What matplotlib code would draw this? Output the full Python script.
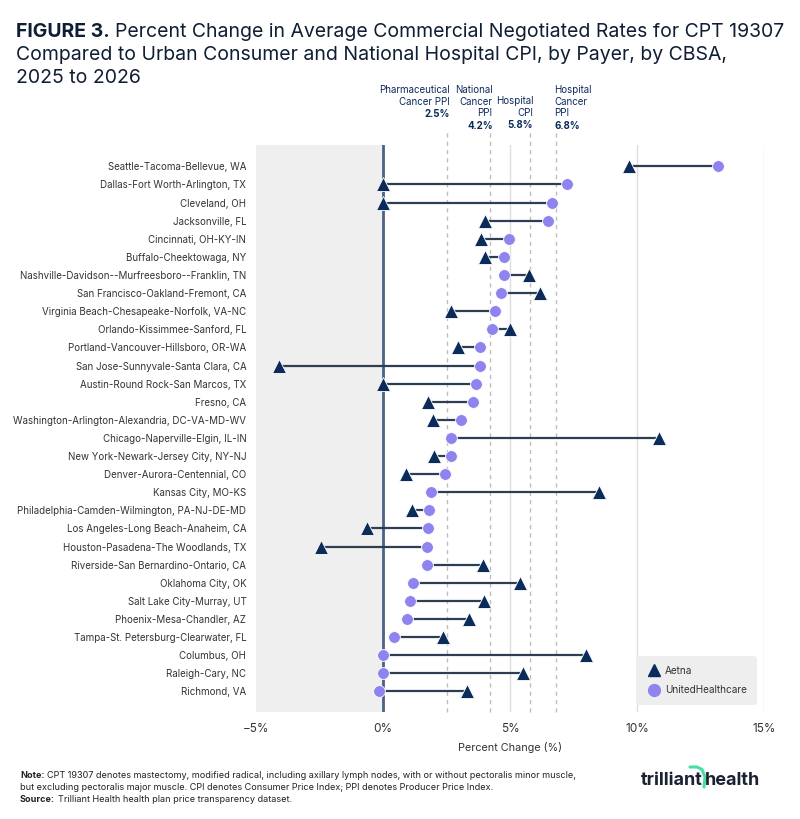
import numpy as np
import matplotlib
matplotlib.use("Agg")
import matplotlib.pyplot as plt
from matplotlib.lines import Line2D
import matplotlib.transforms as mtransforms

plt.rcParams['font.family'] = ['Inter', 'DejaVu Sans']

cbsa = [
    "Seattle-Tacoma-Bellevue, WA", "Dallas-Fort Worth-Arlington, TX", "Cleveland, OH",
    "Jacksonville, FL", "Cincinnati, OH-KY-IN", "Buffalo-Cheektowaga, NY",
    "Nashville-Davidson--Murfreesboro--Franklin, TN", "San Francisco-Oakland-Fremont, CA",
    "Virginia Beach-Chesapeake-Norfolk, VA-NC", "Orlando-Kissimmee-Sanford, FL",
    "Portland-Vancouver-Hillsboro, OR-WA", "San Jose-Sunnyvale-Santa Clara, CA",
    "Austin-Round Rock-San Marcos, TX", "Fresno, CA",
    "Washington-Arlington-Alexandria, DC-VA-MD-WV", "Chicago-Naperville-Elgin, IL-IN",
    "New York-Newark-Jersey City, NY-NJ", "Denver-Aurora-Centennial, CO",
    "Kansas City, MO-KS", "Philadelphia-Camden-Wilmington, PA-NJ-DE-MD",
    "Los Angeles-Long Beach-Anaheim, CA", "Houston-Pasadena-The Woodlands, TX",
    "Riverside-San Bernardino-Ontario, CA", "Oklahoma City, OK", "Salt Lake City-Murray, UT",
    "Phoenix-Mesa-Chandler, AZ", "Tampa-St. Petersburg-Clearwater, FL", "Columbus, OH",
    "Raleigh-Cary, NC", "Richmond, VA",
]
aetna = [9.7, 0.0, 0.0, 4.0, 3.86, 4.0, 5.73, 6.19, 2.66, 5.0,
         2.95, -4.11, 0.0, 1.78, 1.98, 10.87, 1.99, 0.92, 8.51, 1.14,
         -0.62, -2.44, 3.92, 5.41, 3.96, 3.37, 2.36, 7.99, 5.50, 3.32]
uhc = [13.17, 7.24, 6.67, 6.49, 4.95, 4.76, 4.76, 4.65, 4.39, 4.31,
       3.81, 3.81, 3.67, 3.54, 3.09, 2.66, 2.66, 2.43, 1.90, 1.80,
       1.78, 1.72, 1.72, 1.19, 1.07, 0.95, 0.43, 0.0, 0.0, -0.14]

ref_vals = [2.5, 4.2, 5.8, 6.8]
ref_lines = [["Pharmaceutical", "Cancer PPI"], ["National", "Cancer", "PPI"],
             ["Hospital", "CPI"], ["Hospital", "Cancer", "PPI"]]
ref_pct = ["2.5%", "4.2%", "5.8%", "6.8%"]

navy = "#0b2b5a"
purple = "#8f84ef"
linec = "#2d3d52"
textc = "#333333"
titlec = "#0f1e33"

W, H = 800, 819
fig = plt.figure(figsize=(8, 8.19), dpi=100)
ax = fig.add_axes([0.32, 0.131, 0.635, 0.692])

y = np.arange(len(cbsa))
ax.axvspan(-5, 0, color="#efefef", zorder=0)
for g in [5, 10, 15]:
    ax.axvline(g, color="#dedede", lw=1, zorder=1)
for r in ref_vals:
    ax.axvline(r, ymax=1.024, color="#bdbdbd", lw=1, ls=(0, (3, 3)), zorder=1, clip_on=False)
ax.axvline(0, color="#4a6284", lw=2, zorder=2)

ax.hlines(y, aetna, uhc, color=linec, lw=1.6, zorder=3)
ax.plot(uhc, y, "o", color=purple, ms=8.5, mec="white", mew=0.6, zorder=4)
ax.plot(aetna, y, "^", color=navy, ms=9.5, mec="white", mew=0.6, zorder=5)

ax.set_xlim(-5, 15)
ax.set_ylim(len(cbsa) - 1 + 1.12, -1.18)
ax.set_yticks(y)
ax.set_yticklabels(cbsa, fontsize=7, color=textc)
ax.set_xticks([-5, 0, 5, 10, 15])
ax.set_xticklabels(["\u22125%", "0%", "5%", "10%", "15%"], fontsize=8.5, color=textc)
ax.tick_params(length=0, pad=8)
ax.tick_params(axis="y", pad=7)
for s in ax.spines.values():
    s.set_visible(False)
ax.set_xlabel("Percent Change (%)", fontsize=7.8, color=textc, labelpad=5)

# reference line labels (x in data, y in figure pixels from top)
bt = mtransforms.blended_transform_factory(ax.transData, fig.transFigure)
def put(xv, ypx, s, ha, bold=False):
    ax.text(xv, 1 - ypx / H, s, transform=bt, ha=ha, va="center", fontsize=7,
            color=navy, fontweight="bold" if bold else "normal")

tops = [90, 90, 101, 90]
for r, lines, pct, top in zip(ref_vals, ref_lines, ref_pct, tops):
    ha = "left" if r == 6.8 else "right"
    xv = r - 0.05 if ha == "left" else r + 0.12
    for i, s in enumerate(lines):
        put(xv, top + i * 11.7, s, ha)
    put(xv, top + len(lines) * 11.7 + 0.5, pct, ha, bold=True)

handles = [Line2D([], [], marker="^", color=navy, ls="", ms=8.5, label="Aetna"),
           Line2D([], [], marker="o", color=purple, ls="", ms=8.5, label="UnitedHealthcare")]
leg = ax.legend(handles=handles, loc="lower right", bbox_to_anchor=(0.986, 0.011), fontsize=7.2,
                frameon=True, facecolor="#eeeeee", edgecolor="none", framealpha=1,
                handletextpad=0.3, borderpad=1.0, labelspacing=0.95, handlelength=1.6,
                borderaxespad=0)
leg.get_frame().set_boxstyle("round,pad=0,rounding_size=0.3")
for t in leg.get_texts():
    t.set_color(textc)

# title
def fy(px):
    return 1 - px / H

t1 = fig.text(16 / W, fy(37), "FIGURE 3.", fontsize=14, fontweight="bold", va="baseline", color=titlec)
fig.canvas.draw()
bb = t1.get_window_extent()
fig.text((bb.x1 + 5) / W, fy(37), "Percent Change in Average Commercial Negotiated Rates for CPT 19307",
         fontsize=14, va="baseline", color=titlec)
fig.text(16 / W, fy(60), "Compared to Urban Consumer and National Hospital CPI, by Payer, by CBSA,",
         fontsize=14, va="baseline", color=titlec)
fig.text(16 / W, fy(83), "2025 to 2026", fontsize=14, va="baseline", color=titlec)

# notes
notec = "#222222"
nfs = 6.55
nt = fig.text(20 / W, fy(775), "Note:", fontsize=nfs, fontweight="bold", color=notec, va="center")
fig.canvas.draw()
nb = nt.get_window_extent()
fig.text((nb.x1 + 3) / W, fy(775),
         "CPT 19307 denotes mastectomy, modified radical, including axillary lymph nodes, with or without pectoralis minor muscle,",
         fontsize=nfs, color=notec, va="center")
fig.text(20 / W, fy(787), "but excluding pectoralis major muscle. CPI denotes Consumer Price Index; PPI denotes Producer Price Index.",
         fontsize=nfs, color=notec, va="center")
st = fig.text(20 / W, fy(799), "Source:", fontsize=nfs, fontweight="bold", color=notec, va="center")
fig.canvas.draw()
sb = st.get_window_extent()
fig.text((sb.x1 + 3) / W, fy(799), "Trilliant Health health plan price transparency dataset.",
         fontsize=nfs, color=notec, va="center")

# logo
fig.text(703 / W, fy(785), "trilliant", fontsize=13, fontweight="bold", color="#1a2233",
         ha="right", va="baseline")
fig.text(705 / W, fy(785), "health", fontsize=13, fontweight="bold", color="#1a2233",
         ha="left", va="baseline")
sx = np.array([690, 697, 702, 705, 704]) / W
sy = fy(np.array([767, 767, 769.5, 777, 787]))
fig.add_artist(Line2D(sx, sy, transform=fig.transFigure, color="#45e0a2", lw=2.2,
                      solid_capstyle="round"))

fig.savefig("out.png", dpi=100)
